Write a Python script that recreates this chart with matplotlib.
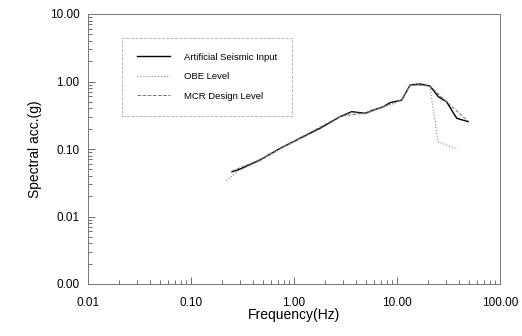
import matplotlib as mpl
mpl.use('Agg')
import matplotlib.pyplot as plt
from matplotlib.ticker import FixedLocator, FuncFormatter
import numpy as np

plt.rcParams['font.family'] = ['Liberation Sans', 'DejaVu Sans']

# values
freq_art = [0.25, 0.286, 0.47, 0.73, 1.14, 1.79, 2.8, 3.63, 4.9, 5.9, 7.4, 8.55,
            11.1, 13.4, 16.7, 20.9, 25.2, 30.3, 38.0, 49.3]
acc_art = [0.046, 0.049, 0.069, 0.102, 0.144, 0.203, 0.301, 0.357, 0.338, 0.378,
           0.424, 0.485, 0.53, 0.887, 0.92, 0.857, 0.596, 0.50, 0.285, 0.254]

freq_obe = [0.22, 0.286, 0.47, 0.73, 1.14, 1.79, 2.8, 3.63, 4.9, 7.4, 11.1,
            13.4, 16.7, 20.9, 25.0, 32.0, 38.7]
acc_obe = [0.034, 0.047, 0.067, 0.099, 0.14, 0.198, 0.295, 0.35, 0.33, 0.415,
           0.52, 0.87, 0.90, 0.84, 0.129, 0.11, 0.10]

freq_mcr = [0.25, 0.47, 1.14, 2.8, 4.9, 11.1, 13.4, 20.9, 30.3, 49.3]
acc_mcr = [0.047, 0.070, 0.146, 0.305, 0.34, 0.535, 0.89, 0.86, 0.50, 0.256]

x_ticks = [0.01, 0.1, 1, 10, 100]
y_ticks = [0.001, 0.01, 0.1, 1, 10]

fig = plt.figure(figsize=(5.22, 3.36), dpi=100)
ax = fig.add_axes([88/522, 1-284/336, (500-88)/522, (284-14)/336])

ax.loglog(freq_art, acc_art, color='black', linewidth=1.0, label='Artificial Seismic Input')
ax.loglog(freq_obe, acc_obe, color='#888888', linewidth=0.8, linestyle=':', label='OBE Level')
ax.loglog(freq_mcr, acc_mcr, color='#777777', linewidth=0.7, linestyle='--', label='MCR Design Level')

ax.set_xlim(0.01, 100)
ax.set_ylim(0.001, 10)
ax.xaxis.set_major_locator(FixedLocator(x_ticks))
ax.yaxis.set_major_locator(FixedLocator(y_ticks))
fmt = FuncFormatter(lambda v, p: '%.2f' % v)
ax.xaxis.set_major_formatter(fmt)
ax.yaxis.set_major_formatter(fmt)

ax.tick_params(which='both', direction='in', colors='#555555', labelcolor='black',
               labelsize=8.5, width=0.6)
ax.tick_params(which='major', length=5, pad=6)
ax.tick_params(which='minor', length=3)
ax.tick_params(axis='x', pad=9)
for s in ax.spines.values():
    s.set_color('#777777')
    s.set_linewidth(0.7)

ax.set_xlabel('Frequency(Hz)', fontsize=10, labelpad=0)
ax.set_ylabel('Spectral acc.(g)', fontsize=10, labelpad=6)

leg = ax.legend(loc='upper left', bbox_to_anchor=(0.07, 0.93), fontsize=6.8, frameon=True,
                fancybox=False, edgecolor='#999999', handlelength=3.5, labelspacing=1.1,
                borderpad=1.6, handletextpad=1.5)
leg.get_frame().set_linewidth(0.6)
leg.get_frame().set_linestyle('--')

fig.savefig('out.png', dpi=100)
